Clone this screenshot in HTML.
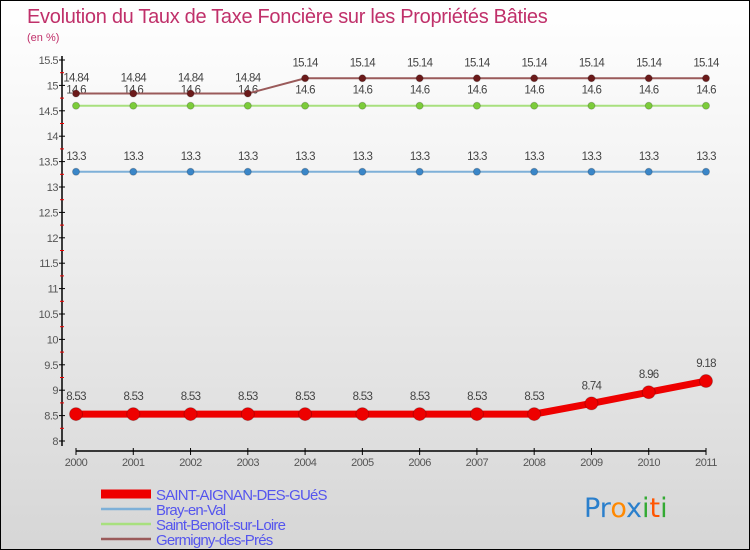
<!DOCTYPE html>
<html><head><meta charset="utf-8"><style>
body{margin:0}
#c{width:750px;height:550px;position:relative;overflow:hidden;box-sizing:border-box;border:1px solid #000;background:linear-gradient(#ffffff,#f4f4f4 30%,#d6d6d6);font-family:"Liberation Sans",sans-serif}
svg{position:absolute;left:0;top:0}
</style></head><body>
<div id="c">
<svg id="s" width="750" height="550">
<text x="26" y="22" font-size="20" fill="#c0306a" letter-spacing="-0.3">Evolution du Taux de Taxe Foncière sur les Propriétés Bâties</text>
<text x="26" y="40" font-size="11" fill="#c0306a">(en %)</text>
</svg>
</div>
<script>
const years=[2000,2001,2002,2003,2004,2005,2006,2007,2008,2009,2010,2011];
const yTicks=[8,8.5,9,9.5,10,10.5,11,11.5,12,12.5,13,13.5,14,14.5,15,15.5];
const saint=[8.53,8.53,8.53,8.53,8.53,8.53,8.53,8.53,8.53,8.74,8.96,9.18];
const bray=[13.3,13.3,13.3,13.3,13.3,13.3,13.3,13.3,13.3,13.3,13.3,13.3];
const benoit=[14.6,14.6,14.6,14.6,14.6,14.6,14.6,14.6,14.6,14.6,14.6,14.6];
const germ=[14.84,14.84,14.84,14.84,15.14,15.14,15.14,15.14,15.14,15.14,15.14,15.14];
const seriesNames=["SAINT-AIGNAN-DES-GUéS","Bray-en-Val","Saint-Benoît-sur-Loire","Germigny-des-Prés"];
const NS="http://www.w3.org/2000/svg",s=document.getElementById('s');
const X=i=>75+i*(630/(years.length-1));
const Y=v=>440-(v-8)*50.8;
function el(t,a,p){const e=document.createElementNS(NS,t);for(const k in a)e.setAttribute(k,a[k]);(p||s).appendChild(e);return e;}
let ax=el('line',{x1:61,y1:55,x2:61,y2:445,stroke:'#000','stroke-width':1.5});


yTicks.forEach(v=>{
 el('line',{x1:58,y1:Y(v),x2:64,y2:Y(v),stroke:'#000'});
 if(v<15.5)el('line',{x1:59,y1:Y(v+0.25),x2:63,y2:Y(v+0.25),stroke:'#e00'});
 const t=el('text',{x:57,y:Y(v)+4,'font-size':11,fill:'#555','text-anchor':'end','letter-spacing':'-0.5'});
 t.textContent=v;
 
 
});
let xa=el('line',{x1:75,y1:450,x2:705,y2:450,stroke:'#000','stroke-width':1.5});


years.forEach((y,i)=>{
 el('line',{x1:X(i),y1:447,x2:X(i),y2:454,stroke:'#000'});
 const t=el('text',{x:X(i),y:465,'font-size':11,fill:'#555','text-anchor':'middle','letter-spacing':'-0.5'});
 t.textContent=y;
 
 
});
function series(data,color,lc,w,r,name,dy){
 const g=el('g',{});
 
 
 el('polyline',{points:data.map((v,i)=>X(i)+','+Y(v)).join(' '),fill:'none',stroke:lc,'stroke-width':w},g);
 data.forEach((v,i)=>{
  const c=el('circle',{cx:X(i),cy:Y(v),r:r,fill:color,stroke:'#0003'},g);
  
  
  const t=el('text',{x:X(i),y:Y(v)+dy,'font-size':11.5,fill:'#444','text-anchor':'middle','letter-spacing':'-0.7'},g);
  t.textContent=v;
  
  
 });
}
series(bray,'#3a86c8','#7eb0d8',2,3.5,'series-bray',-12);
series(benoit,'#7ccc3a','#a8e07e',2,3.5,'series-benoit',-12);
series(germ,'#6b1a1a','#9a5a5a',2,3.5,'series-germigny',-12);
series(saint,'#ee0000','#ee0000',7,6.5,'series-saint-aignan',-14);
const lc=['#ee0000','#7eb0d8','#a8e07e','#9a5a5a'],lw=[9,2.5,2.5,2.5];
seriesNames.forEach((n,i)=>{
 const y=493+i*15;
 const g=el('g',{});
 
 
 el('line',{x1:100,y1:y,x2:150,y2:y,stroke:lc[i],'stroke-width':lw[i]},g);
 const t=el('text',{x:155,y:y+6,'font-size':15,fill:'#5555ee','letter-spacing':'-0.8'},g);
 t.textContent=n;
});
const lg=el('text',{x:583,y:516,'font-size':27,'font-family':'"DejaVu Sans",sans-serif'});


[['Pr','#2a7fcc'],['o','#ff8800'],['x','#2a7fcc'],['i','#33aa33'],['t','#ff5500'],['i','#33aa33']].forEach(p=>{el('tspan',{fill:p[1]},lg).textContent=p[0];});
</script>
</body></html>
